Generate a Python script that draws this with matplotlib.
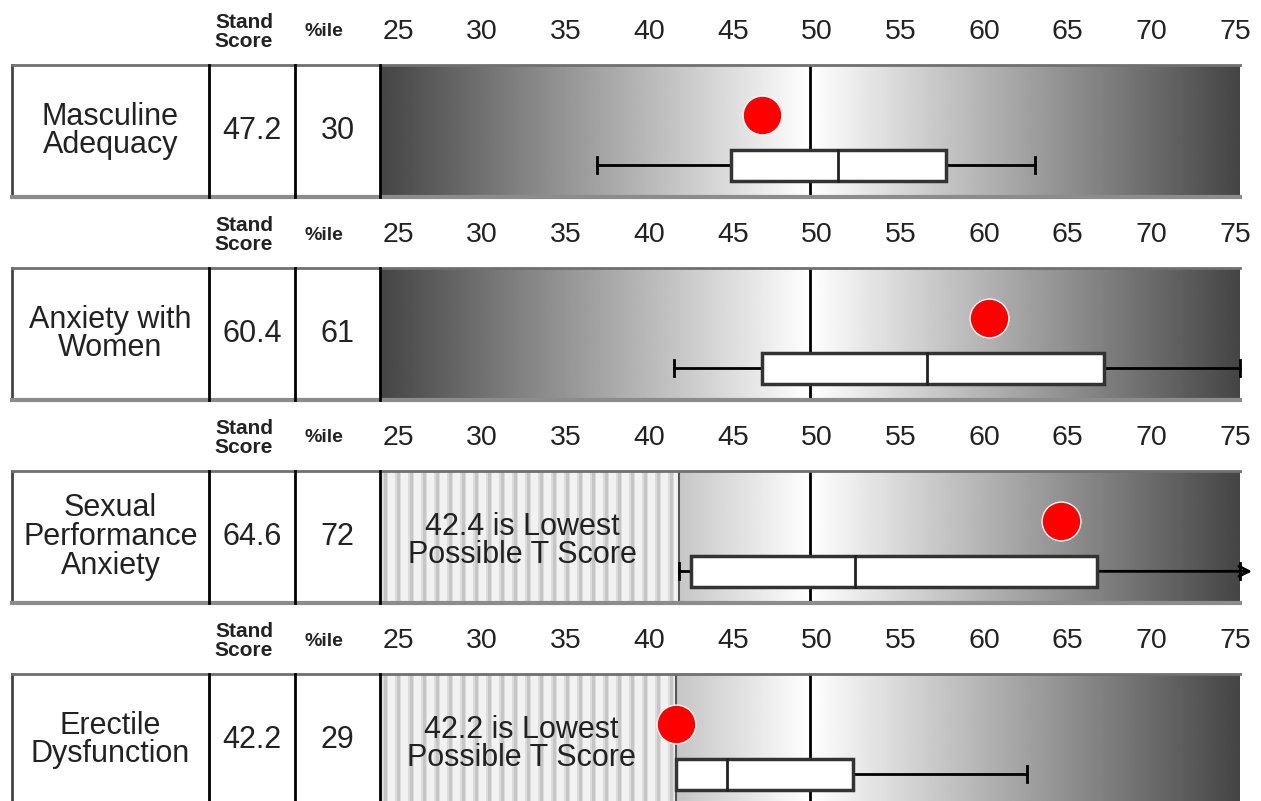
import numpy as np
import matplotlib
matplotlib.use('Agg')
import matplotlib.pyplot as plt
from matplotlib.patches import Rectangle

plt.rcParams['font.family'] = ['Liberation Sans', 'DejaVu Sans']

# ── profile data ─────────────────────────────
scales = ['Masculine\nAdequacy', 'Anxiety with\nWomen',
          'Sexual\nPerformance\nAnxiety', 'Erectile\nDysfunction']
stand_scores = [47.2, 60.4, 64.6, 42.2]
percentiles = [30, 61, 72, 29]
floors = [None, None, 42.4, 42.2]          # lowest possible T score

# norm group box plots (inf = whisker runs off the scale)
whisker_low = [37.6, 42.1, 42.4, 42.2]
q1 = [45.4, 47.2, 43.1, 42.2]
median = [51.6, 56.8, 52.6, 45.2]
q3 = [57.9, 67.1, 66.7, 52.5]
whisker_high = [63.1, 75.0, np.inf, 62.6]

ticks = [25, 30, 35, 40, 45, 50, 55, 60, 65, 70, 75]

# ── layout (pixels of the 1261x801 canvas) ───
W, H = 1261, 801
AX_LEFT, AX_W, ROW_H = 380, 860, 132
row_tops = [65, 268, 471, 674]
# column edges in axes fraction (left of the gradient area)
c_lab, c_score, c_pct = (12 - 380) / 860, (209 - 380) / 860, (295 - 380) / 860

fig = plt.figure(figsize=(W / 100, H / 100), dpi=100)

xs = np.linspace(25, 75, 600)
shade = 0.27 + 0.73 * (1 - np.abs(xs - 50) / 25)
STRIPE = 13 * 50 / AX_W                    # stripe period, ~13 px

for i in range(4):
    top = row_tops[i]
    ax = fig.add_axes([AX_LEFT / W, 1 - (top + ROW_H) / H, AX_W / W, ROW_H / H])
    ax.set_xlim(25, 75)
    ax.set_ylim(0, 1)
    ax.axis('off')

    # background gradient: dark at the extremes, white at the mean
    ax.imshow(np.tile(shade, (2, 1)), cmap='gray', vmin=0, vmax=1,
              extent=[25, 75, 0, 1], aspect='auto', interpolation='bilinear', zorder=0)

    fl = floors[i]
    if fl is not None:
        ax.axvspan(25, fl, color='#f2f2f2', lw=0, zorder=1)
        for x0 in np.arange(25 + STRIPE * 0.3, fl, STRIPE):
            ax.axvspan(x0, min(x0 + STRIPE * 0.22, fl), color='#c6c6c6', lw=0, zorder=1)
            ax.axvspan(x0 - STRIPE * 0.12, x0, color='#dcdcdc', lw=0, zorder=1)
            ax.axvspan(min(x0 + STRIPE * 0.22, fl), min(x0 + STRIPE * 0.34, fl),
                       color='#dcdcdc', lw=0, zorder=1)
        ax.axvline(fl, color='#555555', lw=1.5, zorder=2)
        ax.text((25 + fl) / 2 - 0.4, 0.47, f'{fl} is Lowest\nPossible T Score', ha='center',
                va='center', fontsize=22, color='#222222', linespacing=0.95, zorder=2)

    ax.axvline(50, color='black', lw=2, zorder=2)

    # box plot
    yc, hh, cap = 0.24, 0.115, 0.06
    wl, wh = whisker_low[i], whisker_high[i]
    ax.plot([wl, q1[i]], [yc, yc], color='black', lw=2, zorder=3)
    ax.plot([wl, wl], [yc - cap, yc + cap], color='black', lw=2, zorder=3)
    if np.isfinite(wh):
        ax.plot([q3[i], wh], [yc, yc], color='black', lw=2, zorder=3, clip_on=False)
        ax.plot([wh, wh], [yc - cap, yc + cap], color='black', lw=2, zorder=3, clip_on=False)
    else:
        ax.annotate('', xy=(75.7, yc), xytext=(q3[i], yc),
                    arrowprops=dict(arrowstyle='->', color='black', lw=2,
                                    shrinkA=0, shrinkB=0, mutation_scale=18),
                    annotation_clip=False, zorder=3)
        ax.plot([75, 75], [yc - cap, yc + cap], color='black', lw=2, zorder=3, clip_on=False)
    ax.add_patch(Rectangle((q1[i], yc - hh), q3[i] - q1[i], 2 * hh, facecolor='white',
                           edgecolor='#333333', lw=2.5, zorder=4))
    ax.plot([median[i], median[i]], [yc - hh, yc + hh], color='#222222', lw=2, zorder=5)

    # client score
    ax.scatter([stand_scores[i]], [0.62], s=780, color='#ff0000', edgecolors='white',
               linewidths=1, zorder=6, clip_on=False)

    # table cells to the left
    T = ax.transAxes
    ax.plot([c_lab, 1], [1, 1], transform=T, color='#707070', lw=2, clip_on=False, zorder=7)
    ax.plot([c_lab, 1], [0, 0], transform=T, color='#8c8c8c', lw=3, clip_on=False, zorder=7)
    ax.plot([c_lab, c_lab], [0, 1], transform=T, color='#444444', lw=2, clip_on=False)
    for cx in (c_score, c_pct, 0):
        ax.plot([cx, cx], [0, 1], transform=T, color='black', lw=2, clip_on=False, zorder=7)

    ax.text((c_lab + c_score) / 2, 0.5, scales[i], transform=T, ha='center', va='center',
            fontsize=22, color='#222222', linespacing=0.95)
    ax.text((c_score + c_pct) / 2, 0.5, f'{stand_scores[i]}', transform=T, ha='center',
            va='center', fontsize=22, color='#222222')
    ax.text(c_pct / 2, 0.5, f'{percentiles[i]}', transform=T, ha='center', va='center',
            fontsize=22, color='#222222')

    # header row
    ax.text((244 - 380) / 860, 1.25, 'Stand\nScore', transform=T, ha='center', va='center',
            fontsize=15, fontweight='bold', color='#222222', linespacing=1.0)
    ax.text((324 - 380) / 860, 1.25, '%ile', transform=T, ha='center', va='center',
            fontsize=14, fontweight='bold', color='#222222')
    for t in ticks:
        # labels sit on a slightly narrower grid than the bar itself
        ax.text(26.05 + (t - 25) * 0.9733, 1.25, str(t), ha='center', va='center',
                fontsize=20.5, color='#222222', transform=ax.get_xaxis_transform())

fig.savefig('out.png', dpi=100)
